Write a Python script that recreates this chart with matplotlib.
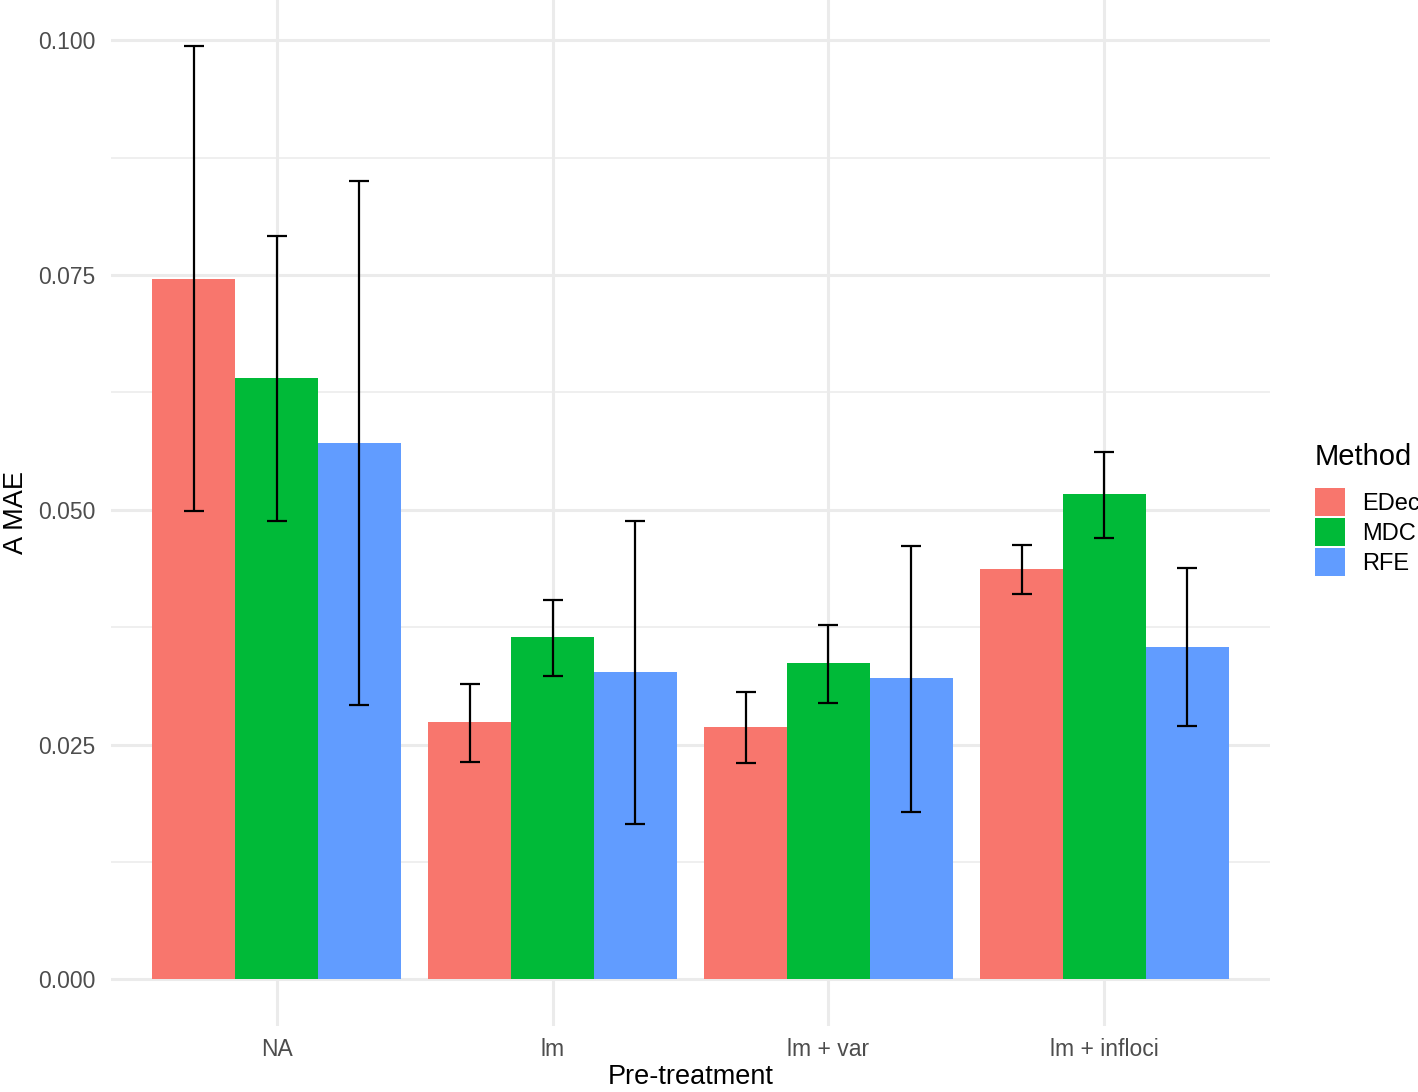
import matplotlib
matplotlib.use("Agg")
import matplotlib.pyplot as plt
import numpy as np
from matplotlib.patches import Patch

plt.rcParams['font.family'] = ['Liberation Sans', 'DejaVu Sans']

categories = ["NA", "lm", "lm + var", "lm + infloci"]
methods = ["EDec", "MDC", "RFE"]
colors = ["#F8766D", "#00BA38", "#619CFF"]

mean_edec = [0.0746, 0.0274, 0.0269, 0.0437]
mean_mdc = [0.0640, 0.0365, 0.0337, 0.0517]
mean_rfe = [0.0571, 0.0327, 0.0321, 0.0354]

low_edec = [0.0499, 0.0231, 0.0230, 0.0410]
high_edec = [0.0994, 0.0315, 0.0306, 0.0463]
low_mdc = [0.0488, 0.0323, 0.0294, 0.0470]
high_mdc = [0.0792, 0.0404, 0.0377, 0.0562]
low_rfe = [0.0292, 0.0165, 0.0178, 0.0270]
high_rfe = [0.0850, 0.0488, 0.0462, 0.0438]

means = [mean_edec, mean_mdc, mean_rfe]
lows = [low_edec, low_mdc, low_rfe]
highs = [high_edec, high_mdc, high_rfe]

W, H = 1418, 1092
fig = plt.figure(figsize=(W / 100, H / 100), dpi=100)
ax = fig.add_axes([111 / W, (H - 1026) / H, (1270 - 111) / W, 1026 / H])

x = np.arange(1, len(categories) + 1)
bw = 0.9 / 3
for i, m in enumerate(methods):
    xpos = x - 0.45 + bw / 2 + i * bw
    ax.bar(xpos, means[i], width=bw, color=colors[i], zorder=2, linewidth=0)
    lo = np.array(means[i]) - np.array(lows[i])
    hi = np.array(highs[i]) - np.array(means[i])
    ax.errorbar(xpos, means[i], yerr=[lo, hi], fmt='none', ecolor='black',
                elinewidth=1.6, capsize=7, capthick=1.6, zorder=3)

ax.set_xlim(0.4, 4.6)
ax.set_ylim(-0.00497, 0.1043)
ax.set_xticks(x)
ax.set_xticklabels(categories)
ax.set_yticks([0, 0.025, 0.05, 0.075, 0.1])
ax.set_yticklabels(["0.000", "0.025", "0.050", "0.075", "0.100"])
ax.set_yticks([0.0125, 0.0375, 0.0625, 0.0875], minor=True)

ax.grid(True, which='major', axis='both', color='#EBEBEB', linewidth=2.2, zorder=0)
ax.grid(True, which='minor', axis='y', color='#EBEBEB', linewidth=1.1, zorder=0)
ax.set_axisbelow(True)
for s in ax.spines.values():
    s.set_visible(False)
ax.tick_params(axis='both', which='both', length=0, labelsize=16.5, labelcolor='#4D4D4D')
ax.tick_params(axis='y', pad=11.5)
ax.tick_params(axis='x', pad=9)

ax.set_xlabel("Pre-treatment", fontsize=19.5, color='black')
ax.set_ylabel("A MAE", fontsize=19.5, color='black')
ax.xaxis.set_label_coords(0.5, -0.037)
ax.yaxis.set_label_coords(-0.071, 0.5)

fig.text(1315 / W, 1 - 457 / H, "Method", fontsize=21, va='center', ha='left')
handles = [Patch(facecolor=c, edgecolor='none') for c in colors]
leg = fig.legend(handles, methods, loc='upper left',
                 bbox_to_anchor=(1315 / W, 1 - 488 / H), frameon=False,
                 fontsize=17, handlelength=1.27, handleheight=1.43,
                 handletextpad=0.72, labelspacing=0.1, borderpad=0, borderaxespad=0)

fig.savefig("out.png", dpi=100)
